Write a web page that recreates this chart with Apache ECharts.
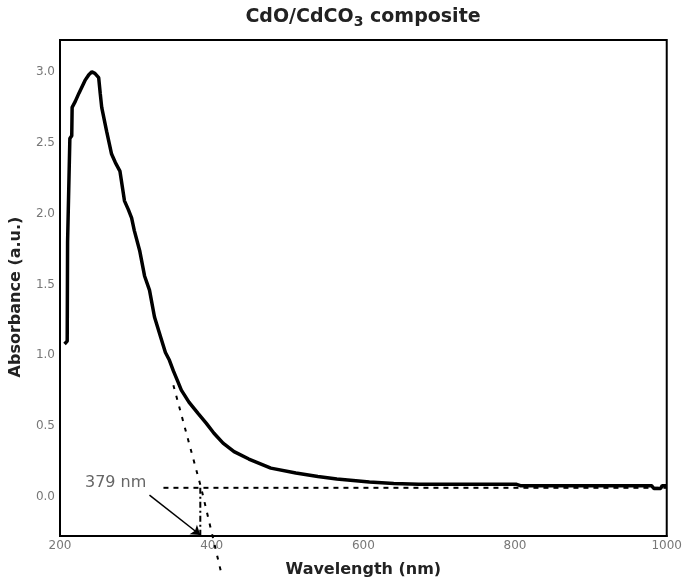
<!DOCTYPE html>
<html>
<head>
<meta charset="utf-8">
<script src="https://cdn.jsdelivr.net/npm/echarts@6/dist/echarts.min.js"></script>
<style>html,body{margin:0;padding:0;background:#fff;}#c{width:685px;height:586px;}</style>
</head>
<body>
<div id="c"></div>
<script>
// Spectrum (wavelength nm, absorbance a.u.)
const wavelength = [206,208,209.5,210,212.5,213,215.5,216,220,225,233,238,242,246,251,253,255,261.5,268,273,279,285,290,294.4,298,305,311.5,318,324.6,333.8,339,344.3,349.5,355,360,370,382,393,403,415,429.5,449,478,511,540,565,608,640,673,700,760,802,807,900,980,983,992,994,1000];
const absorbance = [1.08,1.09,1.10,1.80,1.81,2.53,2.55,2.75,2.79,2.85,2.94,2.98,3.00,2.99,2.96,2.85,2.75,2.58,2.42,2.36,2.30,2.09,2.03,1.97,1.88,1.74,1.56,1.46,1.27,1.11,1.02,0.965,0.89,0.82,0.754,0.67,0.59,0.52,0.45,0.38,0.32,0.268,0.204,0.169,0.145,0.127,0.106,0.095,0.09,0.09,0.09,0.09,0.08,0.08,0.08,0.06,0.06,0.08,0.08];
// Annotation lines
const tangentX = [349.5, 386.2, 413.8];
const tangentY = [0.789, 0.063, -0.563];
const baselineX = [336.4, 1000];
const baselineY = [0.065, 0.065];
const dropX = [385, 385];
const dropY = [0.065, -0.27];
const arrowStart = [318, 0.014];
const arrowEnd = [385, -0.268];
const labelPos = [273.4, 0.099];
const labelText = '379 nm';
const xTicks = [200, 400, 600, 800, 1000];
const yTicks = [0.0, 0.5, 1.0, 1.5, 2.0, 2.5, 3.0];

const zip = (a, b) => a.map((v, i) => [v, b[i]]);
const chart = echarts.init(document.getElementById('c'), null, {renderer: 'canvas'});
const labelStyle = {color: '#777', fontSize: 12, fontFamily: 'DejaVu Sans'};
chart.setOption({
  animation: false,
  backgroundColor: '#fff',
  title: {
    text: '{a|CdO/CdCO}{s|3}{a| composite}',
    left: 358, top: 0, textAlign: 'center',
    textStyle: {
      rich: {
        a: {fontFamily: 'DejaVu Sans', fontWeight: 'bold', fontSize: 19, color: '#222'},
        s: {fontFamily: 'DejaVu Sans', fontWeight: 'bold', fontSize: 14, color: '#222', padding: [10, 0, 0, 0]}
      }
    }
  },
  grid: {left: 58, right: 17, top: 40, bottom: 50, show: true, borderColor: '#000', borderWidth: 2},
  xAxis: {
    type: 'value', min: 200, max: 1000, interval: 200,
    name: 'Wavelength (nm)', nameLocation: 'middle', nameGap: 26,
    nameTextStyle: {fontFamily: 'DejaVu Sans', fontWeight: 'bold', fontSize: 16, color: '#222'},
    axisLine: {show: true, onZero: false, lineStyle: {color: '#000', width: 2}},
    axisTick: {show: false},
    splitLine: {show: false},
    axisLabel: Object.assign({margin: 4, formatter: v => xTicks.includes(v) ? String(v) : ''}, labelStyle)
  },
  yAxis: {
    type: 'value', min: -0.275, max: 3.225, interval: 0.025,
    name: 'Absorbance (a.u.)', nameLocation: 'middle', nameGap: 36,
    nameTextStyle: {fontFamily: 'DejaVu Sans', fontWeight: 'bold', fontSize: 16, color: '#222', padding: [0, 0, 0, -18]},
    axisLine: {show: true, onZero: false, lineStyle: {color: '#000', width: 2}},
    axisTick: {show: false},
    splitLine: {show: false},
    axisLabel: Object.assign({
      margin: 5, interval: 0,
      formatter: v => {
        const t = yTicks.find(k => Math.abs(k - v) < 1e-6);
        return t === undefined ? '' : t.toFixed(1);
      }
    }, labelStyle)
  },
  series: [
    {
      type: 'line', data: zip(baselineX, baselineY), symbol: 'none', silent: true,
      lineStyle: {color: '#000', width: 2, type: [5, 5]}
    },
    {
      type: 'line', data: zip(tangentX, tangentY), symbol: 'none', clip: false, silent: true,
      lineStyle: {color: '#000', width: 2, type: [4, 7]}
    },
    {
      type: 'line', data: zip(dropX, dropY), symbol: 'none', silent: true,
      lineStyle: {color: '#000', width: 2, type: [6, 3, 2, 3]}
    },
    {
      type: 'line', data: zip(wavelength, absorbance), symbol: 'none',
      lineStyle: {color: '#000', width: 3.5}
    },
    {
      type: 'line', data: [], symbol: 'none',
      markLine: {
        silent: true, symbol: ['none', 'arrow'], symbolSize: 9,
        lineStyle: {color: '#000', width: 1.5, type: 'solid'},
        label: {show: false},
        data: [[{coord: arrowStart}, {coord: arrowEnd}]]
      },
      markPoint: {
        silent: true, symbol: 'circle', symbolSize: 0,
        label: {show: true, formatter: labelText, color: '#666', fontSize: 16, fontFamily: 'DejaVu Sans', position: 'inside'},
        data: [{coord: labelPos}]
      }
    }
  ]
});
</script>
</body>
</html>
